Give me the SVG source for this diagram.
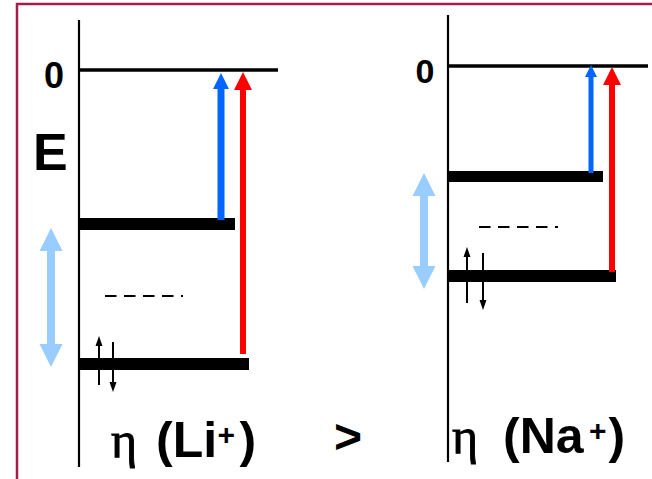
<svg xmlns="http://www.w3.org/2000/svg" width="652" height="479" viewBox="0 0 652 479">
  <style>
    .axis { stroke: #000; stroke-width: 2.2; fill: none; }
    .zero { stroke: #000; stroke-width: 3.5; fill: none; }
    .level { fill: #000; }
    .dash { stroke: #000; stroke-width: 2; stroke-dasharray: 11.5 7.5; fill: none; }
    .spin { stroke: #000; stroke-width: 2; fill: none; }
    .b { font-family: "Liberation Sans", Arial, sans-serif; font-weight: bold; fill: #000; }
    .s { font-family: "Liberation Serif", "Times New Roman", serif; fill: #000; stroke: #000; stroke-width: 0.9; }
    .blue { fill: #0066ff; }
    .red { fill: #ff0000; }
    .lblue { fill: #99ccff; }
  </style>
  <rect x="0" y="0" width="652" height="479" fill="#fff"/>
  <rect x="17" y="4" width="700" height="600" fill="none" stroke="#a31d4c" stroke-width="2.5"/>

  <g id="left-panel">
    <line class="axis" x1="79" y1="20" x2="79" y2="467"/>
    <line class="zero" x1="79" y1="70" x2="278" y2="70"/>
    <text class="b" x="54" y="88" font-size="36" text-anchor="middle">0</text>
    <text class="b" x="33" y="170" font-size="52">E</text>
    <rect id="left-upper-level" class="level" x="79" y="218" width="156" height="12"/>
    <rect id="left-lower-level" class="level" x="80" y="358" width="169" height="12"/>
    <line class="dash" x1="105" y1="296" x2="183" y2="296"/>
    <text class="s" x="111" y="457" font-size="50">η</text>
    <text class="b" x="156" y="457" font-size="50">(Li</text>
    <text class="b" x="217.5" y="445" font-size="30">+</text>
    <text class="b" x="239.5" y="457" font-size="50">)</text>
  </g>

  <text id="gt" class="b" x="334" y="453" font-size="48">&gt;</text>

  <g id="right-panel">
    <line class="axis" x1="448" y1="15" x2="448" y2="462"/>
    <line class="zero" x1="448" y1="66" x2="648" y2="66"/>
    <text class="b" x="425" y="83" font-size="34" text-anchor="middle">0</text>
    <rect id="right-upper-level" class="level" x="448" y="171" width="155" height="11"/>
    <rect id="right-lower-level" class="level" x="448" y="270" width="168" height="12"/>
    <line class="dash" x1="479" y1="227" x2="558" y2="227"/>
    <text class="s" x="452" y="453" font-size="50">η</text>
    <text class="b" x="503" y="453" font-size="50">(Na</text>
    <text class="b" x="589" y="441" font-size="30">+</text>
    <text class="b" x="608.5" y="453" font-size="50">)</text>
  </g>

  <g id="connectors">
    <rect class="blue" x="217.5" y="86" width="7" height="134"/>
    <polygon class="blue" points="213,89 229,89 221,73"/>
    <rect class="red" x="240" y="88" width="6" height="266"/>
    <polygon class="red" points="234,90 252,90 243,72"/>
    <rect class="blue" x="588.5" y="75" width="5" height="98"/>
    <polygon class="blue" points="585,77 597,77 591,65"/>
    <rect class="red" x="609" y="83" width="6" height="189"/>
    <polygon class="red" points="603,85 621,85 612,67"/>
    <polygon class="lblue" points="51,228 62.5,251 55,251 55,344 62.5,344 51,367 39.5,344 47,344 47,251 39.5,251"/>
    <polygon class="lblue" points="424,173 435.5,196 428,196 428,266 435.5,266 424,289 412.5,266 420,266 420,196 412.5,196"/>
    <line class="spin" x1="99" y1="385" x2="99" y2="344"/>
    <polygon points="95.5,346 102.5,346 99,336"/>
    <line class="spin" x1="113" y1="342" x2="113" y2="383"/>
    <polygon points="109.5,382 116.5,382 113,392"/>
    <line class="spin" x1="467" y1="303" x2="467" y2="255"/>
    <polygon points="463.5,257 470.5,257 467,247"/>
    <line class="spin" x1="483" y1="253" x2="483" y2="301"/>
    <polygon points="479.5,300 486.5,300 483,310"/>
  </g>
</svg>
